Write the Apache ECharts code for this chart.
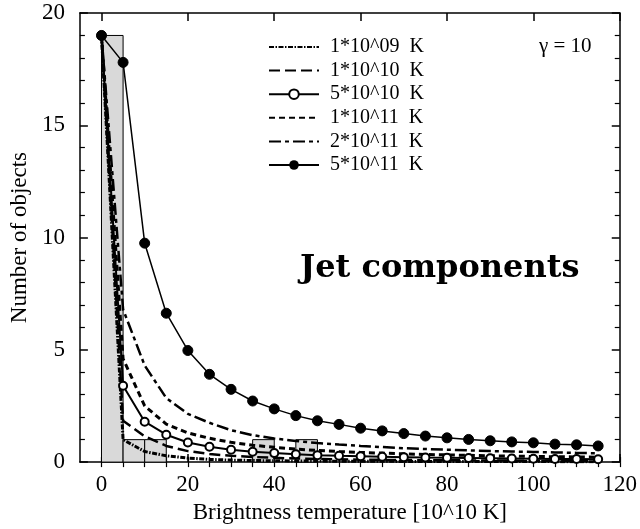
<!DOCTYPE html>
<html>
<head>
<meta charset="utf-8">
<script src="https://cdn.jsdelivr.net/npm/echarts@6/dist/echarts.min.js"></script>
<style>
  html, body { margin: 0; padding: 0; background: #fff; }
  #chart { width: 640px; height: 529px; }
</style>
</head>
<body>
<div id="chart"></div>
<script>
// Brightness temperature bins (units of 10^10 K)
const temps = [0, 5, 10, 15, 20, 25, 30, 35, 40, 45, 50, 55, 60, 65, 70, 75, 80, 85, 90, 95, 100, 105, 110, 115];

// Observed histogram of jet components
const binStart = [0, 5, 10, 35, 45];
const binEnd   = [5, 10, 15, 40, 50];
const binCount = [19, 1, 1, 1, 1];

// Model distributions for different intrinsic brightness temperatures
const seriesNames = ['1*10^09  K', '1*10^10  K', '5*10^10  K', '1*10^11  K', '2*10^11  K', '5*10^11  K'];
const model1e9  = [19, 1.0, 0.47, 0.28, 0.18, 0.12, 0.09, 0.07, 0.06, 0.05, 0.045, 0.04, 0.037, 0.034, 0.031, 0.029, 0.027, 0.025, 0.024, 0.023, 0.022, 0.021, 0.02, 0.019];
const model1e10 = [19, 1.84, 1.15, 0.72, 0.49, 0.36, 0.28, 0.23, 0.19, 0.16, 0.14, 0.125, 0.11, 0.1, 0.09, 0.085, 0.08, 0.075, 0.07, 0.065, 0.06, 0.058, 0.055, 0.052];
const model5e10 = [19, 3.4, 1.8, 1.22, 0.87, 0.68, 0.55, 0.46, 0.4, 0.35, 0.31, 0.28, 0.26, 0.24, 0.22, 0.2, 0.19, 0.18, 0.17, 0.16, 0.15, 0.14, 0.135, 0.13];
const model1e11 = [19, 4.6, 2.5, 1.69, 1.3, 1.06, 0.88, 0.75, 0.66, 0.58, 0.52, 0.47, 0.43, 0.4, 0.37, 0.34, 0.32, 0.3, 0.28, 0.27, 0.25, 0.24, 0.23, 0.22];
const model2e11 = [19, 6.8, 4.3, 2.85, 2.15, 1.75, 1.42, 1.2, 1.05, 0.94, 0.85, 0.78, 0.72, 0.67, 0.62, 0.58, 0.55, 0.52, 0.49, 0.47, 0.45, 0.43, 0.41, 0.39];
const model5e11 = [19, 17.8, 9.75, 6.63, 4.97, 3.91, 3.24, 2.72, 2.37, 2.07, 1.84, 1.68, 1.51, 1.39, 1.27, 1.16, 1.08, 1.01, 0.95, 0.9, 0.86, 0.8, 0.77, 0.72];

// Axis ticks
const xMajorTicks = [0, 20, 40, 60, 80, 100, 120];
const xMinorTicks = [0, 5, 10, 15, 20, 25, 30, 35, 40, 45, 50, 55, 60, 65, 70, 75, 80, 85, 90, 95, 100, 105, 110, 115, 120];

const SERIF = 'Liberation Serif';
const pairs = vals => temps.map((t, i) => [t, vals[i]]);
const noMarker = { color: 'rgba(0,0,0,0)', borderWidth: 0 };

const chart = echarts.init(document.getElementById('chart'), null, { renderer: 'canvas' });

const baseX = {
  type: 'value', min: -5, max: 120,
  splitLine: { show: false },
  axisLine: { show: false },
  axisLabel: { show: false },
  axisTick: { show: false }
};

const option = {
  backgroundColor: '#fff',
  animation: false,
  grid: { left: 78, right: 15, top: 13, bottom: 66, show: false },
  legend: {
    orient: 'vertical',
    left: 263, top: 32,
    itemWidth: 50, itemHeight: 12,
    itemGap: 3.6,
    data: seriesNames,
    textStyle: { fontFamily: SERIF, fontSize: 20, lineHeight: 20, color: '#000', padding: [0, 0, 0, 6] }
  },
  xAxis: [
    Object.assign({}, baseX, {
      position: 'bottom',
      axisLine: { show: true, onZero: false, lineStyle: { color: '#000', width: 1.5 } },
      axisTick: { show: true, inside: true, length: 8, customValues: xMajorTicks, lineStyle: { color: '#000', width: 1.5 } },
      axisLabel: { show: true, customValues: xMajorTicks, margin: 11, fontFamily: SERIF, fontSize: 23, color: '#000' },
      name: 'Brightness temperature [10^10 K]',
      nameLocation: 'middle', nameGap: 37,
      nameTextStyle: { fontFamily: SERIF, fontSize: 23, color: '#000' }
    }),
    Object.assign({}, baseX, {
      position: 'bottom',
      axisTick: { show: true, inside: true, length: 5, customValues: xMinorTicks, lineStyle: { color: '#000', width: 1.2 } }
    }),
    Object.assign({}, baseX, {
      position: 'top',
      axisLine: { show: true, onZero: false, lineStyle: { color: '#000', width: 1.5 } },
      axisTick: { show: true, inside: true, length: 8, customValues: xMajorTicks, lineStyle: { color: '#000', width: 1.5 } }
    }),
    Object.assign({}, baseX, {
      position: 'top',
      axisTick: { show: true, inside: true, length: 5, customValues: xMinorTicks, lineStyle: { color: '#000', width: 1.2 } }
    })
  ],
  yAxis: [
    {
      type: 'value', min: 0, max: 20, interval: 5, position: 'left',
      splitLine: { show: false },
      axisLine: { show: true, onZero: false, lineStyle: { color: '#000', width: 1.5 } },
      axisTick: { show: true, inside: true, length: 8, lineStyle: { color: '#000', width: 1.5 } },
      minorTick: { show: true, splitNumber: 5, length: 5, lineStyle: { color: '#000', width: 1.2 } },
      axisLabel: { margin: 15, fontFamily: SERIF, fontSize: 23, color: '#000' },
      name: 'Number of objects',
      nameLocation: 'middle', nameGap: 43, nameRotate: 90,
      nameTextStyle: { fontFamily: SERIF, fontSize: 23, color: '#000' }
    },
    {
      type: 'value', min: 0, max: 20, interval: 5, position: 'right',
      splitLine: { show: false },
      axisLine: { show: true, onZero: false, lineStyle: { color: '#000', width: 1.5 } },
      axisTick: { show: true, inside: true, length: 8, lineStyle: { color: '#000', width: 1.5 } },
      minorTick: { show: true, splitNumber: 5, length: 5, lineStyle: { color: '#000', width: 1.2 } },
      axisLabel: { show: false }
    }
  ],
  graphic: [
    {
      type: 'text', left: 539, top: 36,
      style: { text: 'γ = 10', font: '21px "Liberation Serif"', fill: '#000' }
    },
    {
      type: 'text', left: 300, top: 253,
      style: { text: 'Jet components', font: 'bold 32px "DejaVu Serif"', fill: '#000' }
    }
  ],
  series: [
    {
      name: 'histogram',
      type: 'custom',
      xAxisIndex: 0, yAxisIndex: 0,
      z: 1,
      data: binStart.map((s, i) => [s, binEnd[i], binCount[i]]),
      encode: { x: [0, 1], y: 2 },
      renderItem: function (params, api) {
        const top = api.coord([api.value(0), api.value(2)]);
        const bottom = api.coord([api.value(1), 0]);
        return {
          type: 'rect',
          shape: { x: top[0], y: top[1], width: bottom[0] - top[0], height: bottom[1] - top[1] },
          style: { fill: '#d9d9d9', stroke: '#000', lineWidth: 1 }
        };
      }
    },
    {
      name: seriesNames[0], type: 'line', z: 3, symbol: 'none',
      data: pairs(model1e9),
      lineStyle: { color: '#000', width: 3, type: [5, 1.5, 1.5, 1.5] },
      itemStyle: noMarker
    },
    {
      name: seriesNames[1], type: 'line', z: 3, symbol: 'none',
      data: pairs(model1e10),
      lineStyle: { color: '#000', width: 2.5, type: [11, 5] },
      itemStyle: noMarker
    },
    {
      name: seriesNames[2], type: 'line', z: 4,
      symbol: 'circle', symbolSize: 8,
      data: pairs(model5e10),
      lineStyle: { color: '#000', width: 2 },
      itemStyle: { color: '#fff', borderColor: '#000', borderWidth: 2 }
    },
    {
      name: seriesNames[3], type: 'line', z: 3, symbol: 'none',
      data: pairs(model1e11),
      lineStyle: { color: '#000', width: 3, type: [6, 4] },
      itemStyle: noMarker
    },
    {
      name: seriesNames[4], type: 'line', z: 3, symbol: 'none',
      data: pairs(model2e11),
      lineStyle: { color: '#000', width: 2.5, type: [12, 4, 4, 4] },
      itemStyle: noMarker
    },
    {
      name: seriesNames[5], type: 'line', z: 5,
      symbol: 'circle', symbolSize: 10,
      data: pairs(model5e11),
      lineStyle: { color: '#000', width: 1.5 },
      itemStyle: { color: '#000', borderColor: '#000' }
    }
  ]
};

chart.setOption(option);
</script>
</body>
</html>
